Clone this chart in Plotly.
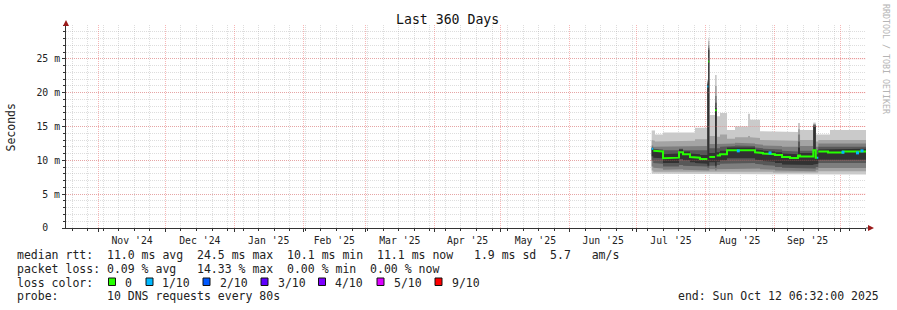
import plotly.graph_objects as go
import pandas as pd

# ---------------- data ----------------
x_start = "2024-10-17 06:32"
x_end = "2025-10-12 06:32"

bin_start = [
    "2025-07-07 20:00", "2025-07-08 13:00", "2025-07-09 08:00", "2025-07-12 22:00",
    "2025-07-17 00:00", "2025-07-20 03:00", "2025-07-21 22:00", "2025-07-25 02:00",
    "2025-07-27 08:00", "2025-07-29 14:00", "2025-08-01 21:00", "2025-08-02 07:30",
    "2025-08-02 18:00", "2025-08-05 08:00", "2025-08-06 02:00", "2025-08-07 14:00",
    "2025-08-10 17:30", "2025-08-14 08:00", "2025-08-20 04:00", "2025-08-21 02:00",
    "2025-08-23 08:00", "2025-08-25 14:00", "2025-08-26 22:00", "2025-08-31 10:00",
    "2025-09-01 08:00", "2025-09-04 11:30", "2025-09-08 02:00", "2025-09-11 16:00",
    "2025-09-12 14:00", "2025-09-18 13:30", "2025-09-19 15:30", "2025-09-20 05:30",
    "2025-09-20 19:30", "2025-09-25 04:30", "2025-09-26 02:00", "2025-10-01 22:00",
]
bin_end = "2025-10-12 06:32"

# median rtt (ms) and lost pings (out of 10) per bin
median_ms = [11.7, 11.4, 11.3, 10.3, 10.4, 11.2, 10.9, 10.5, 10.4, 10.2, 20.9, 24.6,
             10.5, 17.4, 10.7, 10.9, 11.5, 11.6, 11.5, 11.5, 11.2, 11.1, 11.0, 10.9,
             10.8, 10.5, 10.35, 10.7, 10.55, 11.5, 10.4, 10.4, 11.3, 11.15, 11.15, 11.3]
loss_count = [1, 0, 0, 0, 0, 0, 0, 0, 0, 0, 1, 0,
              0, 0, 0, 0, 0, 0, 0, 0, 0, 0, 0, 0,
              0, 0, 0, 0, 0, 0, 0, 1, 0, 0, 0, 0]

# sorted ping round-trip times (ms), ping10 = slowest, ping1 = fastest
ping10 = [14.4, 14.4, 13.8, 14.1, 14.1, 14.1, 14.1, 14.1, 14.8, 14.8, 22.0, 28.1,
          16.7, 22.6, 16.5, 17.0, 14.5, 15.0, 16.9, 16.0, 16.0, 14.3, 14.3, 14.2,
          14.2, 14.2, 14.2, 15.5, 14.5, 15.6, 13.8, 13.8, 13.8, 13.8, 14.5, 14.5]
ping9 = [13.0, 12.9, 12.8, 12.9, 12.9, 12.9, 12.9, 12.9, 13.1, 13.1, 21.8, 27.6,
         13.6, 21.0, 13.5, 13.8, 13.2, 13.4, 13.6, 13.4, 13.3, 13.0, 13.0, 13.0,
         12.9, 12.9, 12.9, 14.6, 13.0, 15.4, 12.8, 12.8, 13.0, 13.0, 13.0, 13.0]
ping8 = [12.2, 12.0, 12.0, 12.0, 12.0, 12.1, 12.0, 12.0, 12.1, 12.1, 21.6, 27.0,
         12.4, 19.5, 12.4, 12.5, 12.5, 12.6, 12.6, 12.5, 12.4, 12.3, 12.2, 12.2,
         12.1, 12.0, 12.0, 13.8, 12.1, 15.3, 12.0, 12.0, 12.5, 12.4, 12.4, 12.5]
ping7 = [11.9, 11.7, 11.6, 11.5, 11.5, 11.7, 11.5, 11.5, 11.5, 11.5, 21.4, 26.6,
         11.8, 18.5, 11.8, 12.0, 12.1, 12.2, 12.1, 12.1, 11.9, 11.8, 11.7, 11.7,
         11.6, 11.4, 11.3, 12.8, 11.4, 15.2, 11.5, 11.5, 12.0, 11.9, 11.9, 12.0]
ping6 = [11.8, 11.6, 11.5, 10.9, 11.0, 11.6, 11.3, 11.0, 10.9, 10.8, 21.2, 26.3,
         11.1, 17.7, 11.2, 11.4, 11.9, 12.0, 11.9, 11.9, 11.6, 11.5, 11.4, 11.3,
         11.2, 11.0, 10.9, 11.9, 11.1, 15.0, 10.9, 10.9, 11.6, 11.6, 11.6, 11.7]
ping5 = [10.6, 10.4, 10.3, 9.6, 9.6, 10.2, 10.0, 9.7, 9.6, 9.5, 9.2, 9.2,
         9.7, 9.2, 9.8, 10.0, 10.3, 10.4, 10.3, 10.3, 10.1, 10.0, 9.9, 9.8,
         9.6, 9.4, 9.3, 9.3, 9.3, 9.4, 9.5, 9.5, 10.1, 10.0, 10.0, 10.1]
ping4 = [9.9, 9.6, 9.5, 9.1, 9.1, 9.3, 9.2, 9.1, 9.1, 9.1, 8.9, 8.9,
         9.2, 8.9, 9.3, 9.5, 9.6, 9.6, 9.6, 9.6, 9.5, 9.4, 9.3, 9.2,
         9.0, 8.9, 8.8, 8.8, 8.8, 8.8, 9.0, 9.0, 9.6, 9.5, 9.5, 9.6]
ping3 = [9.1, 8.9, 8.8, 8.6, 8.6, 8.7, 8.6, 8.6, 8.6, 8.6, 8.5, 8.5,
         8.7, 8.5, 8.7, 8.8, 8.8, 8.8, 8.8, 8.8, 8.8, 8.7, 8.7, 8.6,
         8.5, 8.5, 8.4, 8.4, 8.4, 8.4, 8.6, 8.6, 8.85, 8.85, 8.85, 8.85]
ping2 = [8.5, 8.3, 8.2, 8.2, 8.2, 8.2, 8.2, 8.2, 8.2, 8.2, 8.2, 8.2,
         8.3, 8.2, 8.3, 8.3, 8.3, 8.3, 8.3, 8.3, 8.3, 8.3, 8.3, 8.2,
         8.2, 8.2, 8.1, 8.1, 8.1, 8.1, 8.2, 8.2, 8.4, 8.4, 8.4, 8.4]
ping1 = [8.0, 7.9, 7.9, 7.9, 7.9, 7.9, 7.9, 7.9, 7.9, 7.9, 7.9, 7.9,
         7.9, 7.9, 7.9, 7.9, 7.9, 7.9, 7.9, 7.9, 7.9, 7.9, 7.9, 7.9,
         7.9, 7.9, 7.9, 7.9, 7.9, 7.9, 7.9, 7.9, 7.9, 7.9, 7.9, 7.9]

# isolated 1/10-loss samples on the median line
loss1_dates = ["2025-08-15 19:00", "2025-08-30 02:00", "2025-10-01 22:00",
               "2025-10-08 11:00", "2025-10-10 11:30"]
loss1_values = [11.4, 11.1, 11.2, 11.1, 11.4]

y_tickvals = [0, 5, 10, 15, 20, 25]
y_ticktext = ["0\u00a0\u00a0", "5 m", "10 m", "15 m", "20 m", "25 m"]

legend_labels = ["0", "1/10", "2/10", "3/10", "4/10", "5/10", "9/10"]
legend_colors = ["#26ff00", "#00b8ff", "#0059ff", "#5e00ff", "#7e00ff", "#dd00ff", "#ff0000"]

# ---------------- geometry helpers ----------------
W, H = 897, 310
L, T, PW, PH = 66, 25, 800, 203
FONT = "DejaVu Sans Mono"


def pxx(p):
    return (p - L) / PW


def pxy(p):
    return (T + PH - p) / PH


edges = list(pd.to_datetime(bin_start + [bin_end]))
n = len(bin_start)


def step_path(vals):
    xs, ys = [], []
    for i, v in enumerate(vals):
        xs += [edges[i], edges[i + 1]]
        ys += [v, v]
    return xs, ys


fig = go.Figure()

bands = [(ping1, ping10, "#cacaca"), (ping2, ping9, "#a4a4a4"),
         (ping3, ping8, "#7e7e7e"), (ping4, ping7, "#585858"),
         (ping5, ping6, "#323232")]
for lo, hi, col in bands:
    xu, yu = step_path(hi)
    xl, yl = step_path(lo)
    fig.add_trace(go.Scatter(x=xu + xl[::-1], y=yu + yl[::-1], mode="lines",
                             fill="toself", fillcolor=col, line=dict(width=0),
                             hoverinfo="skip", showlegend=False))


def median_segments(level):
    xs, ys = [], []
    prev = None
    for i in range(n):
        if loss_count[i] != level:
            continue
        if prev is not None and (prev != i - 1 or abs(median_ms[i] - median_ms[prev]) > 3):
            xs.append(None)
            ys.append(None)
        xs += [edges[i], edges[i + 1]]
        ys += [median_ms[i], median_ms[i]]
        prev = i
    return xs, ys


for level, col in [(0, legend_colors[0]), (1, legend_colors[1])]:
    xs, ys = median_segments(level)
    fig.add_trace(go.Scatter(x=xs, y=ys, mode="lines", line=dict(color=col, width=2),
                             hoverinfo="skip", showlegend=False))

fig.add_trace(go.Scatter(x=pd.to_datetime(loss1_dates), y=loss1_values, mode="markers",
                         marker=dict(symbol="square", size=3, color=legend_colors[1],
                                     line=dict(width=0)),
                         hoverinfo="skip", showlegend=False))

major_grid = "rgba(240,110,110,0.5)"
minor_grid = "rgba(150,150,150,0.32)"
axis_col = "#333333"

fig.update_layout(
    width=W, height=H,
    margin=dict(l=L, r=W - L - PW, t=T, b=H - T - PH, pad=0),
    paper_bgcolor="white", plot_bgcolor="white",
    font=dict(family=FONT, size=11.5, color="#222222"),
    showlegend=False,
    xaxis=dict(
        type="date", range=[x_start, x_end],
        tick0="2024-11-01", dtick="M1", tickformat="%b '%y", ticklabelmode="period",
        showgrid=True, gridcolor=major_grid, griddash="1px,1px", gridwidth=1,
        ticks="outside", ticklen=3, tickcolor=axis_col,
        minor=dict(tick0="2024-10-20", dtick=7 * 86400000, showgrid=True,
                   gridcolor=minor_grid, griddash="1px,1px", gridwidth=1,
                   ticks="outside", ticklen=2, tickcolor=axis_col),
        showline=True, linecolor=axis_col, linewidth=1, zeroline=False,
        tickfont=dict(family=FONT, size=9.8, color="#222222"),
    ),
    yaxis=dict(
        range=[0, 30], tickvals=y_tickvals, ticktext=y_ticktext,
        showgrid=True, gridcolor=major_grid, griddash="1px,1px", gridwidth=1,
        ticks="outside", ticklen=3, tickcolor=axis_col,
        minor=dict(tick0=0, dtick=1, showgrid=True, gridcolor=minor_grid,
                   griddash="1px,1px", gridwidth=1, ticks="outside", ticklen=2,
                   tickcolor=axis_col),
        showline=True, linecolor=axis_col, linewidth=1, zeroline=False,
        tickfont=dict(family=FONT, size=9.8, color="#222222"),
    ),
)

shapes = []
arrow_col = "#9a1a1a"
# axis extensions and arrow heads
shapes.append(dict(type="line", xref="paper", yref="paper", x0=1, x1=pxx(869), y0=0, y1=0,
                   line=dict(color=axis_col, width=1)))
shapes.append(dict(type="line", xref="paper", yref="paper", x0=0, x1=0, y0=1, y1=pxy(22),
                   line=dict(color=axis_col, width=1)))
shapes.append(dict(type="path", xref="paper", yref="paper",
                   path=f"M {pxx(868)} {pxy(225)} L {pxx(874)} {pxy(228)} L {pxx(868)} {pxy(231)} Z",
                   fillcolor=arrow_col, line=dict(width=0)))
shapes.append(dict(type="path", xref="paper", yref="paper",
                   path=f"M {pxx(63)} {pxy(26)} L {pxx(66)} {pxy(20)} L {pxx(69)} {pxy(26)} Z",
                   fillcolor=arrow_col, line=dict(width=0)))

# fine grid drawn over the smoke, as rrdtool does (only across the data span)
smoke_x0, smoke_x1 = edges[0], edges[-1]
for yv in y_tickvals[1:]:
    shapes.append(dict(type="line", xref="x", yref="y", x0=smoke_x0, x1=smoke_x1,
                       y0=yv, y1=yv, layer="above",
                       line=dict(color="rgba(240,110,110,0.45)", width=1, dash="1px,1px")))

annotations = []


def txt(s, x, y, size=11.5, anchor="left", color="#222222", angle=0):
    annotations.append(dict(text=s.replace(" ", "\u00a0"), xref="paper", yref="paper",
                            x=pxx(x), y=pxy(y), xanchor=anchor, yanchor="middle",
                            showarrow=False, textangle=angle,
                            font=dict(family=FONT, size=size, color=color)))


txt("Last 360 Days", 447.5, 19.5, size=13.2, anchor="center", color="#111111")
txt("Seconds", 10.5, 127, size=11.5, anchor="center", angle=-90)
txt("RRDTOOL / TOBI OETIKER", 886, 59, size=8.3, anchor="center", color="#b4b4b4", angle=90)

txt("median rtt:  11.0 ms avg  24.5 ms max  10.1 ms min  11.1 ms now   1.9 ms sd  5.7   am/s",
    15, 255)
txt("packet loss: 0.09 % avg   14.33 % max  0.00 % min  0.00 % now", 15, 268.5)
txt("loss color:", 15, 282.5)
txt("probe:       10 DNS requests every 80s", 15, 296)
txt("end: Sun Oct 12 06:32:00 2025", 881, 296, anchor="right")

box_x = [108.5, 146, 203, 261, 318.5, 377, 435]
label_x = [123, 160, 218, 276, 333, 391.5, 450]
for bx, lx, lab, col in zip(box_x, label_x, legend_labels, legend_colors):
    shapes.append(dict(type="rect", xref="paper", yref="paper",
                       x0=pxx(bx), x1=pxx(bx + 7), y0=pxy(278), y1=pxy(285.5),
                       fillcolor=col, line=dict(color="#111111", width=1)))
    txt(lab, lx, 282.5)

fig.update_layout(shapes=shapes, annotations=annotations)

fig.write_html("out.html", config={"displayModeBar": False})
